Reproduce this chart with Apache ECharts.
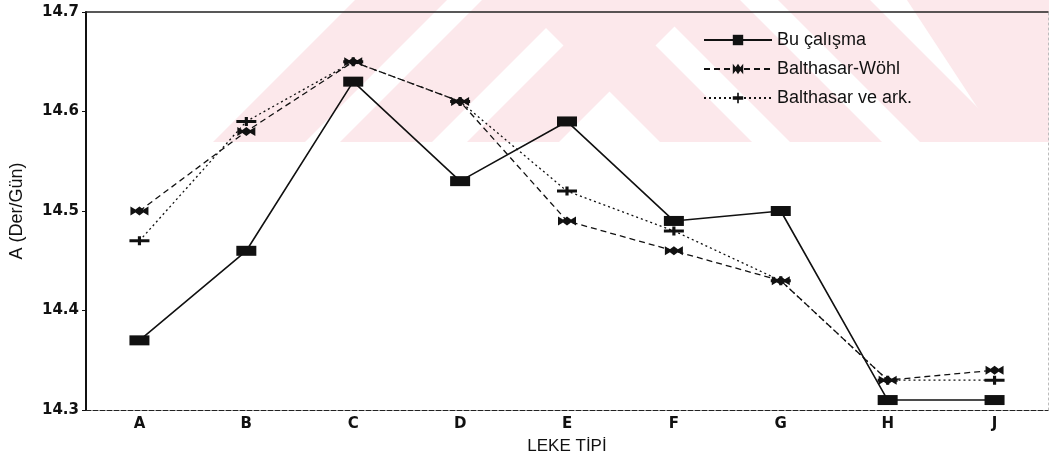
<!DOCTYPE html>
<html>
<head>
<meta charset="utf-8">
<script src="https://cdn.jsdelivr.net/npm/echarts@6/dist/echarts.min.js"></script>
<style>
  html, body { margin: 0; padding: 0; background: #fff; }
  #chart { width: 1049px; height: 460px; }
</style>
</head>
<body>
<div id="chart"></div>
<script>
// ── 数据 ──
const categories = ['A', 'B', 'C', 'D', 'E', 'F', 'G', 'H', 'J'];
const buCalisma     = [14.37, 14.46, 14.63, 14.53, 14.59, 14.49, 14.50, 14.31, 14.31];
const balthasarWohl = [14.50, 14.58, 14.65, 14.61, 14.49, 14.46, 14.43, 14.33, 14.34];
const balthasarArk  = [14.47, 14.59, 14.65, 14.61, 14.52, 14.48, 14.43, 14.33, 14.33];
const seriesNames = ['Bu çalışma', 'Balthasar-Wöhl', 'Balthasar ve ark.'];

// ── 标记形状 ──
const starPath = 'path://M0,0 L5,3 L9,0 L13,3 L18,0 L18,9 L13,6 L9,9 L5,6 L0,9 Z';
const plusPath = 'path://M0,3 L8,3 L8,0 L11,0 L11,3 L19,3 L19,6 L11,6 L11,9 L8,9 L8,6 L0,6 Z';

// ── 背景水印条纹（装饰）──
function watermark() {
  const els = [], h = 142, fill = '#fce8eb';
  [213, 340, 467].forEach(x0 => {
    els.push({ type: 'polygon', silent: true, z: -10,
      shape: { points: [[x0, h], [x0 + 92, h], [x0 + 92 + h, 0], [x0 + h, 0]] },
      style: { fill: fill } });
  });
  [660, 790, 920].forEach(x0 => {
    els.push({ type: 'polygon', silent: true, z: -10,
      shape: { points: [[x0, h], [x0 + 92, h], [x0 + 92 - h, 0], [x0 - h, 0]] },
      style: { fill: fill } });
  });
  els.push({ type: 'polygon', silent: true, z: -10,
    shape: { points: [[1000, h], [1049, h], [1049, 0], [1000 - h + 49, 0]] },
    style: { fill: fill } });
  return els;
}

const chart = echarts.init(document.getElementById('chart'));
const font = 'Liberation Sans, Arial, sans-serif';
const tickFont = 'DejaVu Sans, sans-serif';

chart.setOption({
  animation: false,
  backgroundColor: '#fff',
  graphic: watermark(),
  grid: { left: 86, right: 1, top: 12, bottom: 50 },
  legend: {
    orient: 'vertical', left: 698, top: 26, itemGap: 11,
    itemWidth: 68, itemHeight: 13,
    data: seriesNames,
    textStyle: { color: '#111', fontSize: 18, fontFamily: font }
  },
  xAxis: [
    { type: 'category', data: categories, boundaryGap: true, position: 'bottom',
      name: 'LEKE TİPİ', nameLocation: 'middle', nameGap: 28,
      nameTextStyle: { color: '#111', fontSize: 17, fontFamily: font },
      axisLine: { lineStyle: { color: '#222', width: 1.2, type: [5, 2] } },
      axisTick: { alignWithLabel: true, length: 4, lineStyle: { color: '#222' } },
      axisLabel: { color: '#111', fontSize: 15, fontWeight: 'bold', fontFamily: tickFont, margin: 7 },
      splitLine: { show: false } },
    { type: 'category', data: categories, position: 'top',
      axisLine: { lineStyle: { color: '#222', width: 1.5 } },
      axisTick: { show: false }, axisLabel: { show: false } }
  ],
  yAxis: [
    { type: 'value', min: 14.3, max: 14.7, interval: 0.1,
      name: 'A (Der/Gün)', nameLocation: 'middle', nameGap: 60, nameRotate: 90,
      nameTextStyle: { color: '#111', fontSize: 18, fontFamily: font },
      axisLine: { show: true, lineStyle: { color: '#111', width: 2 } },
      axisTick: { show: true, length: 4, lineStyle: { color: '#111' } },
      axisLabel: { color: '#111', fontSize: 15, fontWeight: 'bold', fontFamily: tickFont, margin: 7,
        formatter: v => v.toFixed(1) },
      splitLine: { show: false } },
    { type: 'value', min: 14.3, max: 14.7, interval: 0.1, position: 'right',
      axisLine: { show: true, lineStyle: { color: '#bbb', width: 1, type: [2, 3] } },
      axisTick: { show: false }, axisLabel: { show: false }, splitLine: { show: false } }
  ],
  series: [
    { name: seriesNames[1], type: 'line', data: balthasarWohl,
      symbol: starPath, symbolSize: [18, 9], showAllSymbol: true,
      lineStyle: { color: '#111', width: 1.3, type: [6, 4] },
      itemStyle: { color: '#111' } },
    { name: seriesNames[2], type: 'line', data: balthasarArk,
      symbol: plusPath, symbolSize: [20, 9], showAllSymbol: true,
      lineStyle: { color: '#111', width: 1.3, type: [2, 3] },
      itemStyle: { color: '#111' } },
    { name: seriesNames[0], type: 'line', data: buCalisma,
      symbol: 'rect', symbolSize: [20, 10], showAllSymbol: true,
      lineStyle: { color: '#111', width: 1.6 },
      itemStyle: { color: '#111' } }
  ]
});
</script>
</body>
</html>
